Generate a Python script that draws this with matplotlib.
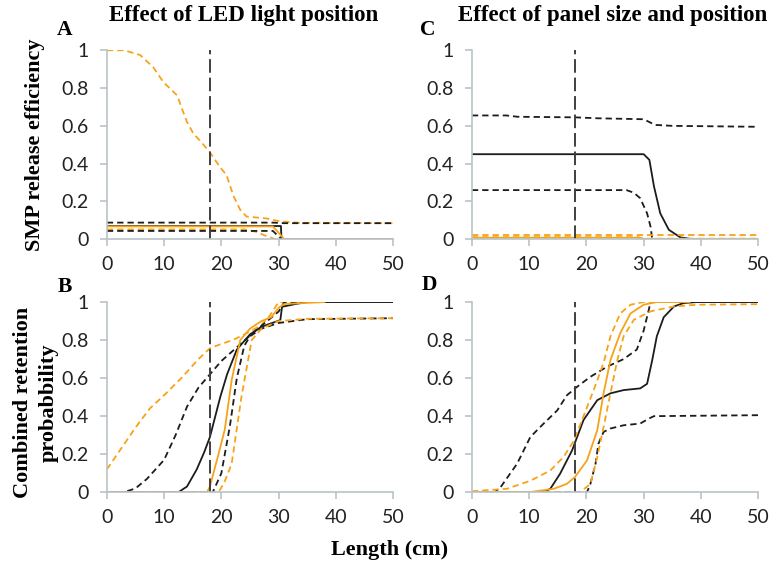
import matplotlib
matplotlib.use("Agg")
import matplotlib.pyplot as plt

plt.rcParams.update({"font.family": ["Lato", "DejaVu Sans"], "font.size": 12})

ORANGE, BLACK, VLINE, SPINE = "#f7a318", "#1c1c1c", "#3f3f3f", "#b9c3c7"
SERIF = "Liberation Serif"

# ---- panel A: SMP release efficiency, LED light position ----
a_od1_x = [0, 3, 5.8, 8.1, 9.9, 11.3, 12.3, 13, 14, 15.1, 16.3, 18, 19.8, 20.9, 22.1, 23.3, 24.4, 27.9, 30.2, 33.7, 50]
a_od1_y = [1.0, 1.0, 0.975, 0.91, 0.83, 0.79, 0.76, 0.70, 0.62, 0.56, 0.52, 0.46, 0.38, 0.34, 0.23, 0.155, 0.12, 0.11, 0.095, 0.087, 0.085]
a_kd1_x = [0, 29, 31, 50]
a_kd1_y = [0.088, 0.088, 0.085, 0.085]
a_ks_x = [0, 30.4, 30.5, 50]
a_ks_y = [0.070, 0.070, 0.0, 0.0]
a_os_x = [0, 29, 31, 50]
a_os_y = [0.068, 0.068, 0.0, 0.0]
a_od2_x = [0, 24, 26, 28, 29.5, 31]
a_od2_y = [0.052, 0.052, 0.04, 0.015, 0.0, 0.0]
a_kd2_x = [0, 29, 30.5]
a_kd2_y = [0.044, 0.044, 0.0]

# ---- panel B: combined retention, LED light position ----
b_od1_x = [0, 2.5, 5, 7.5, 10, 13, 16, 18, 20, 22, 25, 27, 28.5, 30, 38]
b_od1_y = [0.12, 0.23, 0.34, 0.44, 0.51, 0.60, 0.70, 0.757, 0.78, 0.80, 0.845, 0.88, 0.93, 1.0, 1.0]
b_kd1_x = [0, 3, 5, 7, 10, 12, 14, 16, 18, 20, 23, 26, 28, 30, 31, 38]
b_kd1_y = [0.0, 0.0, 0.02, 0.07, 0.17, 0.30, 0.45, 0.55, 0.62, 0.69, 0.77, 0.85, 0.90, 0.95, 1.0, 1.0]
b_ks_x = [0, 12.5, 14, 15.7, 17, 18, 19.8, 21, 22.7, 25, 27, 30.3, 30.6, 33, 35, 50]
b_ks_y = [0.0, 0.0, 0.03, 0.12, 0.21, 0.29, 0.50, 0.62, 0.75, 0.83, 0.87, 0.905, 0.975, 0.99, 1.0, 1.0]
b_os_x = [0, 17.5, 18, 19.5, 20.6, 21.8, 23.3, 25, 27, 28.7, 30, 31, 38]
b_os_y = [0.0, 0.0, 0.03, 0.20, 0.33, 0.59, 0.80, 0.86, 0.90, 0.92, 0.97, 0.99, 1.0]
b_kd2_x = [0, 18.5, 20, 21.5, 22.7, 24, 25, 27, 30, 35, 50]
b_kd2_y = [0.0, 0.0, 0.10, 0.35, 0.60, 0.77, 0.82, 0.86, 0.89, 0.91, 0.915]
b_od2_x = [0, 19.5, 20.5, 21.8, 23.5, 25.3, 27, 30, 35, 50]
b_od2_y = [0.0, 0.0, 0.05, 0.15, 0.50, 0.80, 0.86, 0.90, 0.912, 0.915]

# ---- panel C: SMP release efficiency, panel size and position ----
c_kd1_x = [0, 6, 8, 18, 22, 30, 31, 32, 35, 50]
c_kd1_y = [0.655, 0.655, 0.648, 0.645, 0.64, 0.635, 0.62, 0.605, 0.60, 0.595]
c_ks_x = [0, 30, 31, 31.8, 32.9, 34.4, 36.4, 38.5]
c_ks_y = [0.45, 0.45, 0.42, 0.28, 0.137, 0.05, 0.01, 0.0]
c_kd2_x = [0, 27, 28.3, 29.4, 30.6, 31.2, 31.5]
c_kd2_y = [0.26, 0.26, 0.246, 0.217, 0.137, 0.067, 0.0]
c_od1_x = [0, 50]
c_od1_y = [0.02, 0.02]
c_os_x = [0, 29, 30, 50]
c_os_y = [0.008, 0.008, 0.002, 0.002]
c_od2_x = [0, 29, 30, 50]
c_od2_y = [0.011, 0.011, 0.003, 0.003]

# ---- panel D: combined retention, panel size and position ----
d_kd1_x = [0, 4, 5, 7.9, 10.2, 12.5, 14.9, 16.6, 18.4, 20.7, 23.6, 26.5, 28.8, 30, 30.9, 31.2, 38]
d_kd1_y = [0.0, 0.0, 0.026, 0.15, 0.29, 0.36, 0.43, 0.51, 0.555, 0.607, 0.66, 0.70, 0.75, 0.85, 0.96, 1.0, 1.0]
d_ks_x = [0, 12.5, 13.7, 15.4, 17.5, 19.5, 21.9, 24.2, 26.5, 29.4, 30.6, 31.5, 32.3, 33.5, 35.3, 37, 39.3, 50]
d_ks_y = [0.0, 0.0, 0.018, 0.097, 0.22, 0.38, 0.484, 0.52, 0.537, 0.546, 0.57, 0.695, 0.82, 0.92, 0.977, 0.995, 1.0, 1.0]
d_kd2_x = [0, 20.1, 20.7, 21.6, 22.1, 23, 24.2, 26.5, 29.4, 30.9, 31.8, 50]
d_kd2_y = [0.0, 0.0, 0.044, 0.15, 0.255, 0.317, 0.335, 0.352, 0.361, 0.387, 0.40, 0.405]
d_od1_x = [0, 6.1, 10.2, 13.7, 16, 17.8, 19.5, 21.3, 23, 24.2, 25.9, 27.7, 30, 38]
d_od1_y = [0.005, 0.018, 0.06, 0.114, 0.185, 0.27, 0.40, 0.54, 0.68, 0.82, 0.94, 0.986, 1.0, 1.0]
d_os_x = [0, 10, 14.3, 16.6, 18, 20.1, 21.9, 23, 24.2, 25.9, 27.7, 30, 32.3, 38]
d_os_y = [0.0, 0.0, 0.018, 0.044, 0.08, 0.167, 0.326, 0.52, 0.695, 0.836, 0.94, 0.986, 1.0, 1.0]
d_od2_x = [0, 18.9, 20.7, 21.9, 23, 24.2, 25.4, 26.5, 28.3, 31.2, 35.3, 39.3, 50]
d_od2_y = [0.0, 0.0, 0.044, 0.185, 0.343, 0.52, 0.695, 0.82, 0.907, 0.951, 0.977, 0.986, 0.989]

CUTOFF = 18  # vertical reference length (cm)

DASH = (0, (3.5, 2.2))
panels = {
    "A": [(a_od1_x, a_od1_y, ORANGE, DASH), (a_kd1_x, a_kd1_y, BLACK, DASH),
          (a_od2_x, a_od2_y, ORANGE, DASH), (a_kd2_x, a_kd2_y, BLACK, DASH),
          (a_ks_x, a_ks_y, BLACK, "-"), (a_os_x, a_os_y, ORANGE, "-")],
    "B": [(b_od1_x, b_od1_y, ORANGE, DASH), (b_kd1_x, b_kd1_y, BLACK, DASH),
          (b_ks_x, b_ks_y, BLACK, "-"), (b_os_x, b_os_y, ORANGE, "-"),
          (b_kd2_x, b_kd2_y, BLACK, DASH), (b_od2_x, b_od2_y, ORANGE, DASH)],
    "C": [(c_kd1_x, c_kd1_y, BLACK, DASH), (c_ks_x, c_ks_y, BLACK, "-"),
          (c_kd2_x, c_kd2_y, BLACK, DASH), (c_os_x, c_os_y, ORANGE, "-"),
          (c_od2_x, c_od2_y, ORANGE, DASH), (c_od1_x, c_od1_y, ORANGE, DASH)],
    "D": [(d_kd1_x, d_kd1_y, BLACK, DASH), (d_ks_x, d_ks_y, BLACK, "-"),
          (d_kd2_x, d_kd2_y, BLACK, DASH), (d_od1_x, d_od1_y, ORANGE, DASH),
          (d_os_x, d_os_y, ORANGE, "-"), (d_od2_x, d_od2_y, ORANGE, DASH)],
}
rects = {"A": [0.137, 0.581, 0.367, 0.331], "C": [0.605, 0.581, 0.367, 0.331],
         "B": [0.137, 0.138, 0.367, 0.333], "D": [0.605, 0.138, 0.367, 0.333]}

fig = plt.figure(figsize=(7.8, 5.71), dpi=100)
for key, series in panels.items():
    ax = fig.add_axes(rects[key])
    for xs, ys, col, ls in series:
        ax.plot(xs, ys, color=col, ls=ls, lw=1.3)
    ax.plot([CUTOFF, CUTOFF], [0, 1], color=VLINE, lw=1.4, ls=(0, (7, 2.5)))
    ax.set_xlim(0, 50); ax.set_ylim(0, 1)
    ax.set_xticks([0, 10, 20, 30, 40, 50])
    ax.set_yticks([0, 0.2, 0.4, 0.6, 0.8, 1])
    ax.set_yticklabels(["0", "0.2", "0.4", "0.6", "0.8", "1"])
    for s in ("top", "right"):
        ax.spines[s].set_visible(False)
    for s in ("left", "bottom"):
        ax.spines[s].set_color(SPINE); ax.spines[s].set_linewidth(1.2)
    ax.tick_params(colors=SPINE, labelcolor="#222222", labelsize=14, length=5, width=1.2)
    ax.tick_params(axis="x", pad=7)
    ax.tick_params(axis="y", pad=8)

bold = dict(family=SERIF, fontweight="bold")
fig.text(0.312, 0.972, "Effect of LED light position", ha="center", va="center", fontsize=16.5, **bold)
fig.text(0.785, 0.972, "Effect of panel size and position", ha="center", va="center", fontsize=16.5, **bold)
for lab, (x, y) in {"A": (0.083, 0.947), "B": (0.083, 0.497), "C": (0.549, 0.947), "D": (0.55, 0.50)}.items():
    fig.text(x, y, lab, ha="center", va="center", fontsize=15.5, **bold)
fig.text(0.045, 0.746, "SMP release efficiency", rotation=90, ha="center", va="center", fontsize=16, **bold)
fig.text(0.029, 0.295, "Combined retention", rotation=90, ha="center", va="center", fontsize=16, **bold)
fig.text(0.062, 0.295, "probabbility", rotation=90, ha="center", va="center", fontsize=16, **bold)
fig.text(0.5, 0.036, "Length (cm)", ha="center", va="center", fontsize=16, **bold)

fig.savefig("out.png", dpi=100)
